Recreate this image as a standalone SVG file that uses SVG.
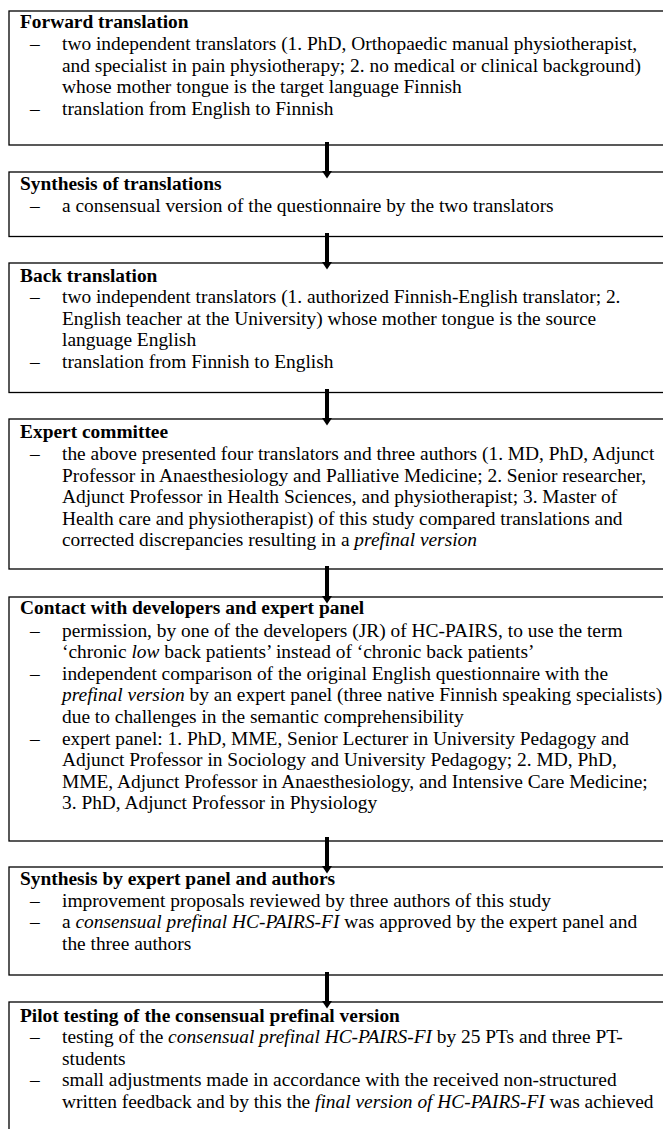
<svg xmlns="http://www.w3.org/2000/svg" width="663" height="1129" viewBox="0 0 663 1129">
<style>
.box{fill:#fff;stroke:#000;stroke-width:1.3}
text{font-family:"Liberation Serif","Times New Roman",serif;font-size:19.4px;fill:#000}
.t{font-weight:bold}
.i{font-style:italic}
.arr{stroke:#000;stroke-width:4;fill:none}
</style>
<defs>
<marker id="ah" markerUnits="userSpaceOnUse" markerWidth="10" markerHeight="10" refX="0" refY="4" orient="auto" viewBox="0 0 8 8">
<path d="M0,0 L6,4 L0,8 z" fill="#000"/>
</marker>
</defs>
<rect x="0" y="0" width="663" height="1129" fill="#fff"/>

<g id="n1">
<rect class="box" x="9" y="11" width="670" height="134"/>
<text class="t" x="20" y="28">Forward translation</text>
<text x="30" y="50">–</text>
<text x="62" y="50">two independent translators (1. PhD, Orthopaedic manual physiotherapist,</text>
<text x="62" y="71.6">and specialist in pain physiotherapy; 2. no medical or clinical background)</text>
<text x="62" y="93.2">whose mother tongue is the target language Finnish</text>
<text x="30" y="114.8">–</text>
<text x="62" y="114.8">translation from English to Finnish</text>
</g>

<g id="n2">
<rect class="box" x="9" y="172" width="670" height="64.5"/>
<text class="t" x="20" y="190">Synthesis of translations</text>
<text x="30" y="211.5">–</text>
<text x="62" y="211.5">a consensual version of the questionnaire by the two translators</text>
</g>

<g id="n3">
<rect class="box" x="9" y="263" width="670" height="129.5"/>
<text class="t" x="20" y="281.5">Back translation</text>
<text x="30" y="303">–</text>
<text x="62" y="303">two independent translators (1. authorized Finnish-English translator; 2.</text>
<text x="62" y="324.6">English teacher at the University) whose mother tongue is the source</text>
<text x="62" y="346.2">language English</text>
<text x="30" y="367.8">–</text>
<text x="62" y="367.8">translation from Finnish to English</text>
</g>

<g id="n4">
<rect class="box" x="9" y="419" width="670" height="150"/>
<text class="t" x="20" y="438">Expert committee</text>
<text x="30" y="460">–</text>
<text x="62" y="460">the above presented four translators and three authors (1. MD, PhD, Adjunct</text>
<text x="62" y="481.6">Professor in Anaesthesiology and Palliative Medicine; 2. Senior researcher,</text>
<text x="62" y="503.2">Adjunct Professor in Health Sciences, and physiotherapist; 3. Master of</text>
<text x="62" y="524.8">Health care and physiotherapist) of this study compared translations and</text>
<text x="62" y="546.4">corrected discrepancies resulting in a <tspan class="i">prefinal version</tspan></text>
</g>

<g id="n5">
<rect class="box" x="9" y="597" width="670" height="244"/>
<text class="t" x="20" y="614">Contact with developers and expert panel</text>
<text x="30" y="636.5">–</text>
<text x="62" y="636.5">permission, by one of the developers (JR) of HC-PAIRS, to use the term</text>
<text x="62" y="658.1">‘chronic <tspan class="i">low</tspan> back patients’ instead of ‘chronic back patients’</text>
<text x="30" y="679.7">–</text>
<text x="62" y="679.7">independent comparison of the original English questionnaire with the</text>
<text x="62" y="701.3"><tspan class="i">prefinal version</tspan> by an expert panel (three native Finnish speaking specialists)</text>
<text x="62" y="722.9">due to challenges in the semantic comprehensibility</text>
<text x="30" y="744.5">–</text>
<text x="62" y="744.5">expert panel: 1. PhD, MME, Senior Lecturer in University Pedagogy and</text>
<text x="62" y="766.1">Adjunct Professor in Sociology and University Pedagogy; 2. MD, PhD,</text>
<text x="62" y="787.7">MME, Adjunct Professor in Anaesthesiology, and Intensive Care Medicine;</text>
<text x="62" y="809.3">3. PhD, Adjunct Professor in Physiology</text>
</g>

<g id="n6">
<rect class="box" x="9" y="867" width="670" height="108"/>
<text class="t" x="20" y="885">Synthesis by expert panel and authors</text>
<text x="30" y="906.5">–</text>
<text x="62" y="906.5">improvement proposals reviewed by three authors of this study</text>
<text x="30" y="928.1">–</text>
<text x="62" y="928.1">a <tspan class="i">consensual prefinal HC-PAIRS-FI</tspan> was approved by the expert panel and</text>
<text x="62" y="949.7">the three authors</text>
</g>

<g id="n7">
<rect class="box" x="9" y="1002" width="670" height="140"/>
<text class="t" x="20" y="1021.5">Pilot testing of the consensual prefinal version</text>
<text x="30" y="1043">–</text>
<text x="62" y="1043">testing of the <tspan class="i">consensual prefinal HC-PAIRS-FI</tspan> by 25 PTs and three PT-</text>
<text x="62" y="1064.6">students</text>
<text x="30" y="1086.2">–</text>
<text x="62" y="1086.2">small adjustments made in accordance with the received non-structured</text>
<text x="62" y="1107.8">written feedback and by this the <tspan class="i">final version of HC-PAIRS-FI</tspan> was achieved</text>
</g>

<g id="connectors">
<line class="arr" x1="327" y1="142" x2="327" y2="171" marker-end="url(#ah)"/>
<line class="arr" x1="327" y1="233" x2="327" y2="262" marker-end="url(#ah)"/>
<line class="arr" x1="327" y1="389" x2="327" y2="418" marker-end="url(#ah)"/>
<line class="arr" x1="327" y1="566" x2="327" y2="596" marker-end="url(#ah)"/>
<line class="arr" x1="327" y1="837" x2="327" y2="866" marker-end="url(#ah)"/>
<line class="arr" x1="327" y1="972" x2="327" y2="1001" marker-end="url(#ah)"/>
</g>
</svg>
